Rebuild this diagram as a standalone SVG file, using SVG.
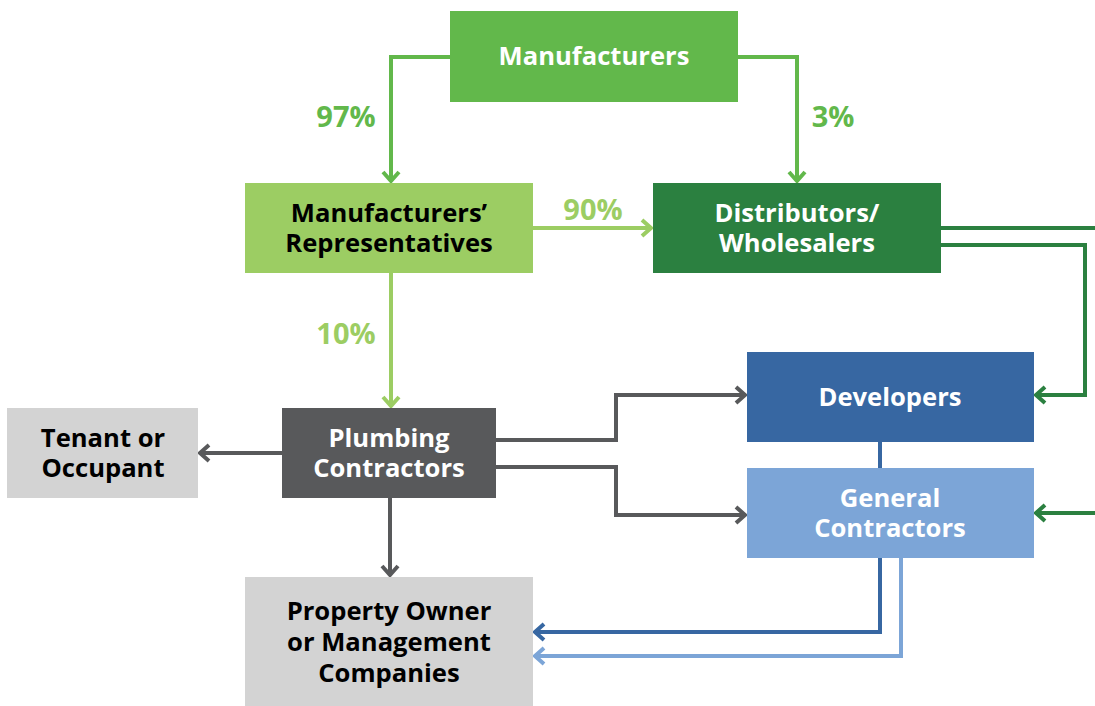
<svg xmlns="http://www.w3.org/2000/svg" width="1095" height="706" viewBox="0 0 1095 706">
<style>
text{font-family:"Open Sans","Liberation Sans",sans-serif;font-weight:bold;font-size:25.6px;text-anchor:middle}
.w{fill:#fff}.k{fill:#000}
.ln{fill:none;stroke-width:4}
.pct{font-size:29px}
</style>
<defs>
<marker id="aG" markerUnits="userSpaceOnUse" markerWidth="20" markerHeight="20" refX="14" refY="10" orient="auto"><path d="M5,2 L14,10 L5,18" fill="none" stroke="#62b84b" stroke-width="4"/></marker>
<marker id="aL" markerUnits="userSpaceOnUse" markerWidth="20" markerHeight="20" refX="14" refY="10" orient="auto"><path d="M5,2 L14,10 L5,18" fill="none" stroke="#9ccd63" stroke-width="4"/></marker>
<marker id="aD" markerUnits="userSpaceOnUse" markerWidth="20" markerHeight="20" refX="14" refY="10" orient="auto"><path d="M5,2 L14,10 L5,18" fill="none" stroke="#2b8040" stroke-width="4"/></marker>
<marker id="aK" markerUnits="userSpaceOnUse" markerWidth="20" markerHeight="20" refX="14" refY="10" orient="auto"><path d="M5,2 L14,10 L5,18" fill="none" stroke="#58595b" stroke-width="4"/></marker>
<marker id="aB" markerUnits="userSpaceOnUse" markerWidth="20" markerHeight="20" refX="14" refY="10" orient="auto"><path d="M5,2 L14,10 L5,18" fill="none" stroke="#3767a2" stroke-width="4"/></marker>
<marker id="aC" markerUnits="userSpaceOnUse" markerWidth="20" markerHeight="20" refX="14" refY="10" orient="auto"><path d="M5,2 L14,10 L5,18" fill="none" stroke="#7ca5d7" stroke-width="4"/></marker>
</defs>
<g id="connectors">
<path class="ln" stroke="#62b84b" d="M450,57 H391 V181" marker-end="url(#aG)"/>
<path class="ln" stroke="#62b84b" d="M738,57 H797 V181" marker-end="url(#aG)"/>
<path class="ln" stroke="#9ccd63" d="M533,228 H651" marker-end="url(#aL)"/>
<path class="ln" stroke="#9ccd63" d="M391,273 V406" marker-end="url(#aL)"/>
<path class="ln" stroke="#2b8040" d="M941,228 H1095"/>
<path class="ln" stroke="#2b8040" d="M941,245 H1085 V395 H1036" marker-end="url(#aD)"/>
<path class="ln" stroke="#2b8040" d="M1095,513 H1036" marker-end="url(#aD)"/>
<path class="ln" stroke="#58595b" d="M496,440 H616 V395 H745" marker-end="url(#aK)"/>
<path class="ln" stroke="#58595b" d="M496,467 H616 V515 H745" marker-end="url(#aK)"/>
<path class="ln" stroke="#58595b" d="M282,453 H200" marker-end="url(#aK)"/>
<path class="ln" stroke="#58595b" d="M390,498 V575" marker-end="url(#aK)"/>
<path class="ln" stroke="#3767a2" d="M880,442 V468"/>
<path class="ln" stroke="#3767a2" d="M880,558 V632 H535" marker-end="url(#aB)"/>
<path class="ln" stroke="#7ca5d7" d="M901,558 V656 H535" marker-end="url(#aC)"/>
<text class="pct" x="346" y="127" fill="#62b84b">97%</text>
<text class="pct" x="833" y="127" fill="#62b84b">3%</text>
<text class="pct" x="593" y="220" fill="#9ccd63">90%</text>
<text class="pct" x="346" y="344" fill="#9ccd63">10%</text>
</g>
<g id="manufacturers"><rect x="450" y="11" width="288" height="91" fill="#62b84b"/><text class="w" x="594" y="65">Manufacturers</text></g>
<g id="reps"><rect x="245" y="183" width="288" height="90" fill="#9ccd63"/><text class="k" x="389" y="222">Manufacturers’</text><text class="k" x="389" y="252">Representatives</text></g>
<g id="distributors"><rect x="653" y="183" width="288" height="90" fill="#2b8040"/><text class="w" x="797" y="222">Distributors/</text><text class="w" x="797" y="252">Wholesalers</text></g>
<g id="tenant"><rect x="7" y="408" width="191" height="90" fill="#d3d3d3"/><text class="k" x="103" y="447">Tenant or</text><text class="k" x="103" y="477">Occupant</text></g>
<g id="plumbing"><rect x="282" y="408" width="214" height="90" fill="#58595b"/><text class="w" x="389" y="447">Plumbing</text><text class="w" x="389" y="477">Contractors</text></g>
<g id="developers"><rect x="747" y="352" width="287" height="90" fill="#3767a2"/><text class="w" x="890" y="406">Developers</text></g>
<g id="gc"><rect x="747" y="468" width="287" height="90" fill="#7ca5d7"/><text class="w" x="890" y="507">General</text><text class="w" x="890" y="537">Contractors</text></g>
<g id="owner"><rect x="245" y="577" width="288" height="129" fill="#d3d3d3"/><text class="k" x="389" y="620">Property Owner</text><text class="k" x="389" y="651">or Management</text><text class="k" x="389" y="682">Companies</text></g>
</svg>
